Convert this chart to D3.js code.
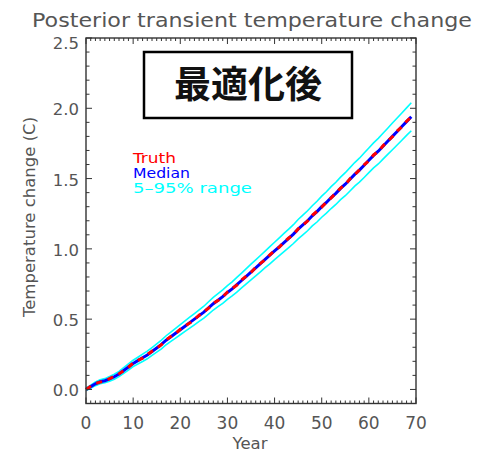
<!DOCTYPE html>
<html lang="ja">
<head>
  <meta charset="UTF-8"/>
  <title>Posterior transient temperature change</title>
  <style>
    *{margin:0;padding:0}
    body{background:#fff;width:477px;height:452px;overflow:hidden}
    text{font-family:"DejaVu Sans",sans-serif}
  </style>
</head>
<body>
  <div id="chart"></div>

  <script src="https://d3js.org/d3.v7.min.js"></script>
  <script>
    // years 0..69
    const years = d3.range(0, 70);

    const median = [
      0.000,0.020,0.040,0.055,0.062,0.075,0.090,0.110,0.135,0.160,
      0.185,0.205,0.225,0.245,0.270,0.295,0.320,0.350,0.375,0.400,
      0.425,0.450,0.475,0.500,0.525,0.550,0.580,0.610,0.635,0.660,
      0.690,0.715,0.745,0.775,0.805,0.835,0.865,0.895,0.925,0.955,
      0.985,1.015,1.045,1.075,1.105,1.140,1.170,1.200,1.235,1.265,
      1.300,1.330,1.365,1.395,1.430,1.460,1.495,1.530,1.560,1.595,
      1.630,1.665,1.695,1.730,1.765,1.800,1.835,1.870,1.905,1.940
    ];
    const truth = [
      0.000,0.022,0.042,0.052,0.060,0.077,0.093,0.112,0.133,0.158,
      0.188,0.207,0.222,0.248,0.272,0.292,0.318,0.353,0.377,0.398,
      0.428,0.452,0.472,0.497,0.528,0.553,0.578,0.613,0.632,0.658,
      0.693,0.717,0.742,0.778,0.807,0.832,0.868,0.897,0.922,0.958,
      0.988,1.012,1.048,1.077,1.102,1.143,1.168,1.198,1.238,1.267,
      1.297,1.333,1.362,1.398,1.432,1.457,1.498,1.528,1.562,1.598,
      1.627,1.668,1.692,1.733,1.767,1.797,1.838,1.868,1.908,1.937
    ];
    const upper = [
      0.010,0.031,0.053,0.069,0.077,0.092,0.108,0.129,0.155,0.182,
      0.208,0.229,0.251,0.272,0.298,0.325,0.351,0.382,0.408,0.435,
      0.461,0.487,0.514,0.540,0.566,0.592,0.624,0.655,0.681,0.708,
      0.739,0.765,0.797,0.828,0.859,0.891,0.922,0.953,0.984,1.016,
      1.047,1.078,1.110,1.141,1.172,1.209,1.240,1.271,1.307,1.339,
      1.375,1.406,1.443,1.474,1.510,1.542,1.578,1.614,1.645,1.682,
      1.718,1.754,1.786,1.822,1.858,1.895,1.931,1.967,2.003,2.040
    ];
    const lower = [
      -0.010,0.009,0.027,0.041,0.047,0.058,0.072,0.091,0.115,0.138,
      0.162,0.181,0.199,0.218,0.242,0.265,0.289,0.318,0.342,0.365,
      0.389,0.413,0.436,0.460,0.484,0.508,0.536,0.565,0.589,0.612,
      0.641,0.665,0.693,0.722,0.751,0.779,0.808,0.837,0.866,0.894,
      0.923,0.952,0.980,1.009,1.038,1.071,1.100,1.129,1.163,1.191,
      1.225,1.254,1.287,1.316,1.350,1.378,1.412,1.446,1.475,1.508,
      1.542,1.576,1.604,1.638,1.672,1.705,1.739,1.773,1.807,1.840
    ];

    const xTicks = [0,10,20,30,40,50,60,70];
    const yTicks = [0.0,0.5,1.0,1.5,2.0,2.5];
    const legend = [
      {label:'Truth',       color:'#ff0000', w:43},
      {label:'Median',      color:'#0000ff', w:57},
      {label:'5\u201395% range', color:'#00ffff', w:119}
    ];

    const W = 477, H = 452;
    const x = d3.scaleLinear().domain([0,70]).range([86,416]);
    const y = d3.scaleLinear().domain([-0.1,2.5]).range([403.5,38]);

    const svg = d3.select('#chart').append('svg')
      .attr('width',W).attr('height',H);

    // title
    svg.append('text')
      .attr('x',252).attr('y',27)
      .attr('text-anchor','middle')
      .attr('font-size',19.5).attr('fill','#555')
      .attr('textLength',440).attr('lengthAdjust','spacingAndGlyphs')
      .text('Posterior transient temperature change');

    // inset label box
    svg.append('rect')
      .attr('x',144).attr('y',52).attr('width',208).attr('height',66)
      .attr('fill','#fff').attr('stroke','#000').attr('stroke-width',2.5);
    svg.append('text')
      .attr('x',248).attr('y',98)
      .attr('text-anchor','middle')
      .style('font-family','"Noto Sans CJK JP",sans-serif')
      .attr('font-size',37).attr('font-weight',700).attr('fill','#111')
      .text('最適化後');

    // lines
    const line = arr => d3.line()
      .x((d,i)=>x(years[i])).y(d=>y(d))(arr);

    svg.append('path').attr('d',line(upper))
      .attr('fill','none').attr('stroke','#00ffff').attr('stroke-width',1.6);
    svg.append('path').attr('d',line(lower))
      .attr('fill','none').attr('stroke','#00ffff').attr('stroke-width',1.6);
    svg.append('path').attr('d',line(median))
      .attr('fill','none').attr('stroke','#0000ff').attr('stroke-width',3);
    svg.append('path').attr('d',line(truth))
      .attr('fill','none').attr('stroke','#ff0000').attr('stroke-width',3)
      .attr('stroke-dasharray','6,6');

    // frame + ticks (ticks point inward on all four sides)
    const g = svg.append('g').attr('stroke','#333').attr('stroke-width',1.4);
    g.append('rect')
      .attr('x',x(0)).attr('y',y(2.5))
      .attr('width',x(70)-x(0)).attr('height',y(-0.1)-y(2.5))
      .attr('fill','none');

    const xMinor = d3.range(0,71,1);
    const yMinor = d3.range(-0.1,2.51,0.1);
    xMinor.forEach(v=>{
      const major = v%10===0, len = major?6:3;
      g.append('line').attr('x1',x(v)).attr('x2',x(v))
        .attr('y1',y(-0.1)).attr('y2',y(-0.1)-len).attr('stroke-width',1);
      g.append('line').attr('x1',x(v)).attr('x2',x(v))
        .attr('y1',y(2.5)).attr('y2',y(2.5)+len).attr('stroke-width',1);
    });
    yMinor.forEach(v=>{
      const major = Math.abs(v*2-Math.round(v*2))<1e-6, len = major?6:3.5;
      g.append('line').attr('x1',x(0)).attr('x2',x(0)+len)
        .attr('y1',y(v)).attr('y2',y(v)).attr('stroke-width',1);
      g.append('line').attr('x1',x(70)).attr('x2',x(70)-len)
        .attr('y1',y(v)).attr('y2',y(v)).attr('stroke-width',1);
    });

    // tick labels (top one is pushed down below the frame edge, as in the original)
    svg.selectAll('.xl').data(xTicks).join('text')
      .attr('x',d=>x(d)).attr('y',429)
      .attr('text-anchor','middle').attr('font-size',17).attr('fill','#555')
      .text(d=>d);
    svg.selectAll('.yl').data(yTicks).join('text')
      .attr('x',79).attr('y',d=>d===2.5 ? y(d)+11 : y(d)+7)
      .attr('text-anchor','end').attr('font-size',16.5).attr('fill','#555')
      .text(d=>d.toFixed(1));

    // axis titles
    svg.append('text')
      .attr('x',250).attr('y',449)
      .attr('text-anchor','middle').attr('font-size',16.5).attr('fill','#555')
      .text('Year');
    svg.append('text')
      .attr('transform','translate(35,217) rotate(-90)')
      .attr('text-anchor','middle').attr('font-size',16.5).attr('fill','#555')
      .text('Temperature change (C)');

    // legend
    svg.selectAll('.lg').data(legend).join('text')
      .attr('x',133).attr('y',(d,i)=>163+i*15)
      .attr('font-size',14.5).attr('fill',d=>d.color)
      .attr('textLength',d=>d.w).attr('lengthAdjust','spacingAndGlyphs')
      .text(d=>d.label);
  </script>
</body>
</html>
